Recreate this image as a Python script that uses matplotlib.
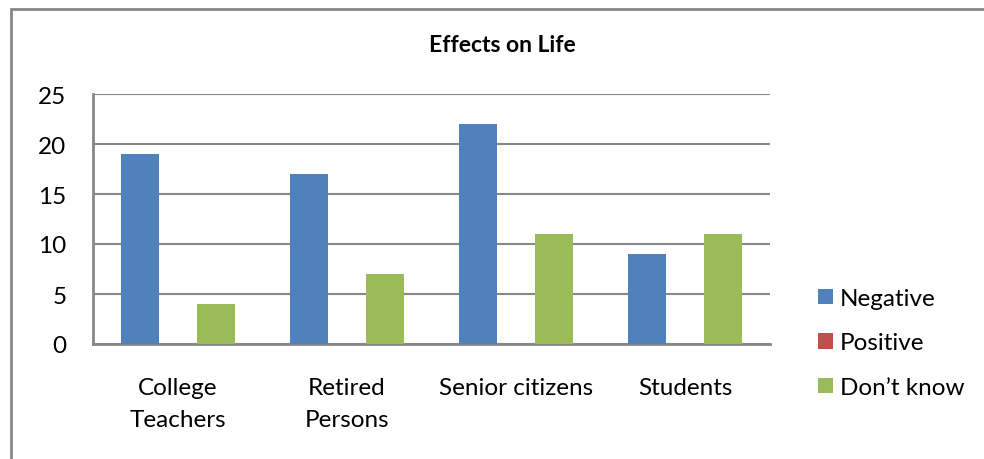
import numpy as np
import matplotlib
matplotlib.use("Agg")
import matplotlib.pyplot as plt
from matplotlib.patches import Rectangle

plt.rcParams['font.family'] = ['Lato', 'DejaVu Sans']

categories = ["College\nTeachers", "Retired\nPersons", "Senior citizens", "Students"]
negative = [19, 17, 22, 9]
positive = [0, 0, 0, 0]
dont_know = [4, 7, 11, 11]
series_names = ["Negative", "Positive", "Don\u2019t know"]
colors = ["#4F81BD", "#C0504D", "#9BBB59"]
grid_col = "#878787"

W, H = 984, 460
fig = plt.figure(figsize=(W / 100, H / 100), dpi=100)

# outer chart border (left and top visible, rest runs off the image)
fig.patches.append(Rectangle((11 / W, -0.1), 1.2, 1 - 10 / H + 0.1,
                             transform=fig.transFigure, fill=False,
                             edgecolor=grid_col, linewidth=2))

ax = fig.add_axes([93 / W, 1 - 345 / H, (770 - 93) / W, (345 - 95) / H])

x = np.arange(len(categories))
bw = 0.225
for i, (vals, name, c) in enumerate(zip([negative, positive, dont_know], series_names, colors)):
    ax.bar(x + (i - 1) * bw, vals, width=bw, color=c, label=name, zorder=3)

ax.set_xlim(-0.5, len(categories) - 0.5)
ax.set_ylim(0, 25)
ax.set_yticks(range(0, 26, 5))
ax.yaxis.grid(True, color=grid_col, linewidth=1.5, zorder=0)
ax.set_xticks(x)
ax.set_xticklabels(categories, linespacing=1.65)
ax.tick_params(axis='both', length=0, labelsize=17.5)
ax.tick_params(axis='y', pad=19)
ax.tick_params(axis='x', pad=24)
for s in ax.spines.values():
    s.set_color(grid_col)
    s.set_linewidth(2)
ax.spines['top'].set_visible(False)
ax.spines['right'].set_visible(False)

fig.text(502 / W, 1 - 46 / H, "Effects on Life", ha='center', va='center',
         fontsize=16.5, fontweight='bold')

fig.legend(loc='center left', bbox_to_anchor=(806 / W, 1 - 344 / H),
           frameon=False, fontsize=17.5, handlelength=0.6, handleheight=0.6,
           handletextpad=0.3, labelspacing=0.97, borderpad=0)

fig.savefig("out.png", dpi=100)
